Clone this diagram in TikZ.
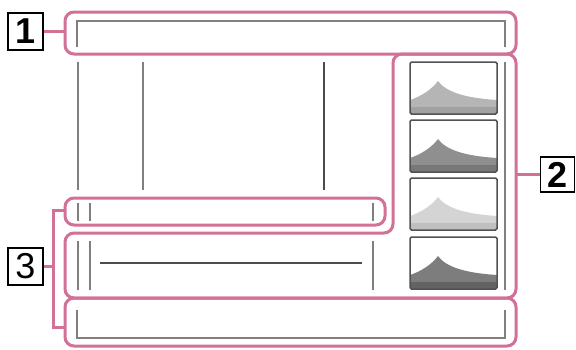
\documentclass[tikz,border=0pt]{standalone}
\usepackage{fontspec}
\setmainfont{Liberation Sans}
\usepackage{tikz}
\usetikzlibrary{positioning}
\definecolor{zonepink}{RGB}{210,112,152}

\tikzset{
  halo/.style={draw=white, line width=7pt, rounded corners=9pt},
  zone/.style={draw=zonepink, line width=3pt, rounded corners=9pt},
  guide/.style={draw=black!50, line width=1.6pt},
  darkguide/.style={draw=black!70, line width=1.3pt},
  tag/.style={draw=black, line width=1.8pt, fill=white, minimum width=35pt,
    minimum height=37pt, inner sep=0pt, font=\fontsize{36}{36}\selectfont},
  histframe/.style={draw=black!68, line width=1.5pt, rounded corners=1.5pt},
}

% outlines of the display zones, drawn twice (white halo, then pink)
\newcommand{\zonepaths}[1]{%
  \draw[#1] (65,12) rectangle (516,54);
  \draw[#1] (65,233) -- (393,233) -- (393,54) -- (516,54) -- (516,298) -- (65,298) -- cycle;
  \draw[#1] (65,198) rectangle (385,225);
  \draw[#1] (65,298) rectangle (516,346);
  \draw[#1, sharp corners] (65,210) -- (53,210) -- (53,327) -- (65,327);
}

\begin{document}
\begin{tikzpicture}[x=1pt, y=-1pt]
    \useasboundingbox (0,0) rectangle (576,349);

    % Zones
    \zonepaths{halo}
    \zonepaths{zone}

    % Guides
    \draw[guide] (77,47) -- (77,21) -- (505,21) -- (505,47);
    \draw[guide] (78,62) -- (78,190);
    \draw[guide] (143,62) -- (143,190);
    \draw[darkguide] (324,62) -- (324,190);
    \draw[guide] (505,62) -- (505,290);
    \draw[guide] (78,203) -- (78,221);
    \draw[guide] (90,203) -- (90,221);
    \draw[guide] (373,203) -- (373,221);
    \draw[guide] (78,241) -- (78,290);
    \draw[guide] (90,241) -- (90,290);
    \draw[guide] (373,241) -- (373,290);
    \draw[darkguide] (100,263) -- (362,263);
    \draw[guide] (77,310) -- (77,338) -- (505,338) -- (505,310);

    % Histograms
    \foreach \y/\tone/\base in {62/black!29/black!37, 120/black!44/black!53,
                                178/black!17/black!25, 237/black!51/black!61} {
        \begin{scope}[shift={(410,\y)}]
            \fill[\tone] (0,38) .. controls (12,34) and (22,27) .. (28,19)
                .. controls (36,30) and (55,36) .. (87,38) -- (87,52) -- (0,52) -- cycle;
            \fill[\base] (0,45) rectangle (87,52);
            \draw[histframe] (0,0) rectangle (87,52);
        \end{scope}
    }

    % Tags
    \node[tag] (t1) at (25.5,31.5) {\bfseries 1};
    \node[tag, minimum width=34pt, minimum height=35pt] (t2) at (557.5,174.5) {\bfseries 2};
    \node[tag] (t3) at (25.5,266.5) {3};
    \coordinate (z1) at (65,31.5);
    \coordinate (z2) at (516,174.5);
    \coordinate (z3) at (53,266.5);
    \draw[zone] (t1) -- (z1);
    \draw[zone] (t2) -- (z2);
    \draw[zone] (t3) -- (z3);
\end{tikzpicture}
\end{document}
